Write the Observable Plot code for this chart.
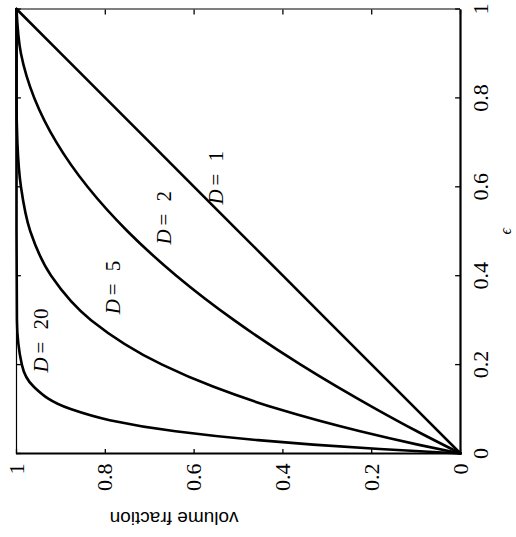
<!DOCTYPE html>
<html><head><meta charset="utf-8">
<script src="https://cdn.jsdelivr.net/npm/d3@7"></script>
<script src="https://cdn.jsdelivr.net/npm/@observablehq/plot@0.6"></script>
<style>
html,body{margin:0;padding:0;background:#fff;width:516px;height:537px;overflow:hidden}
#wrap{position:absolute;left:0;top:0;width:537px;height:516px;transform-origin:0 0;transform:translateY(537px) rotate(-90deg)}
#wrap svg text{font-family:"Liberation Serif","Times New Roman",serif}
#wrap svg text.sans, #wrap svg g.sans text{font-family:"Liberation Sans",Arial,sans-serif}
</style></head><body><div id="wrap"></div>
<script>
// values (epsilon, volume fraction)
const ticks = [0, 0.2, 0.4, 0.6, 0.8, 1];
const epsD1 = [0, 0.2, 0.4, 0.6, 0.8, 1];
const vfD1  = [0, 0.2, 0.4, 0.6, 0.8, 1];
const epsD2 = [0, 0.05, 0.1, 0.2, 0.3, 0.4, 0.5, 0.6, 0.7, 0.8, 0.9, 1];
const vfD2  = [0, 0.098, 0.19, 0.36, 0.51, 0.64, 0.75, 0.84, 0.91, 0.96, 0.99, 1];
const epsD5 = [0, 0.02, 0.05, 0.1, 0.15, 0.2, 0.3, 0.4, 0.5, 0.6, 0.7, 0.8, 1];
const vfD5  = [0, 0.096, 0.226, 0.41, 0.556, 0.672, 0.832, 0.922, 0.969, 0.99, 0.998, 1, 1];
const epsD20 = [0, 0.01, 0.02, 0.03, 0.05, 0.075, 0.1, 0.15, 0.2, 0.3, 0.5, 1];
const vfD20  = [0, 0.182, 0.332, 0.456, 0.642, 0.79, 0.878, 0.961, 0.988, 0.999, 1, 1];
const seriesNames = ["1", "2", "5", "20"];
const labelEps = [0.56, 0.47, 0.313, 0.182];
const labelVf  = [0.536, 0.653, 0.768, 0.928];

const eps = [epsD1, epsD2, epsD5, epsD20];
const vfs = [vfD1, vfD2, vfD5, vfD20];
const rows = [];
seriesNames.forEach((d, i) => eps[i].forEach((e, j) => rows.push({D: d, e, v: vfs[i][j]})));
const labels = seriesNames.map((d, i) => ({D: d, e: labelEps[i], v: labelVf[i]}));

const serif = "Liberation Serif";
const plot = Plot.plot({
  width: 537, height: 516,
  marginLeft: 83, marginRight: 9.5, marginTop: 16, marginBottom: 56,
  x: {domain: [0, 1]}, y: {domain: [0, 1]},
  style: {fontFamily: serif, fontSize: "21px", background: "#fff", color: "#000", overflow: "visible"},
  marks: [
    Plot.line(rows, {x: "e", y: "v", z: "D", stroke: "#000", strokeWidth: 2.6, curve: "monotone-x"}),
    Plot.ruleY([0], {stroke: "#000", strokeWidth: 2.2}),
    Plot.ruleX([0], {stroke: "#000", strokeWidth: 2.2}),
    Plot.ruleY([1], {stroke: "#000", strokeWidth: 1.2}),
    Plot.ruleX([1], {stroke: "#000", strokeWidth: 1.2}),
    Plot.ruleX(ticks, {x: d => d, y1: 0, y2: 0.011, stroke: "#000", strokeWidth: 1.3}),
    Plot.ruleX(ticks, {x: d => d, y1: 0.989, y2: 1, stroke: "#000", strokeWidth: 1.3}),
    Plot.ruleY(ticks, {y: d => d, x1: 0, x2: 0.011, stroke: "#000", strokeWidth: 1.3}),
    Plot.ruleY(ticks, {y: d => d, x1: 0.989, x2: 1, stroke: "#000", strokeWidth: 1.3}),
    Plot.axisX({ticks, tickSize: 0, tickPadding: 12, label: null, tickFormat: d => String(d), fontSize: 22, fontFamily: serif}),
    Plot.axisY({ticks, tickSize: 0, tickPadding: 10, label: null, tickFormat: d => String(d), fontSize: 22, fontFamily: serif}),
    Plot.text(labels, {x: "e", y: "v", text: () => "D", textAnchor: "start", lineAnchor: "bottom", fontStyle: "italic", fontSize: 21, fontFamily: serif}),
    Plot.text(labels, {x: "e", y: "v", text: () => "=", textAnchor: "start", lineAnchor: "bottom", dx: 19, fontSize: 21, fontFamily: serif}),
    Plot.text(labels, {x: "e", y: "v", text: "D", textAnchor: "start", lineAnchor: "bottom", dx: 43, fontSize: 21, fontFamily: serif}),
    Plot.text(["\u03f5"], {frameAnchor: "bottom", dy: 45, fontStyle: "italic", fontSize: 16, lineAnchor: "middle", fontFamily: serif}),
    Plot.text(["volume fraction"], {frameAnchor: "left", dx: -58, rotate: -90, lineAnchor: "bottom", fontSize: 19, className: "sans"})
  ]
});
document.getElementById("wrap").appendChild(plot);
</script>
</body></html>
